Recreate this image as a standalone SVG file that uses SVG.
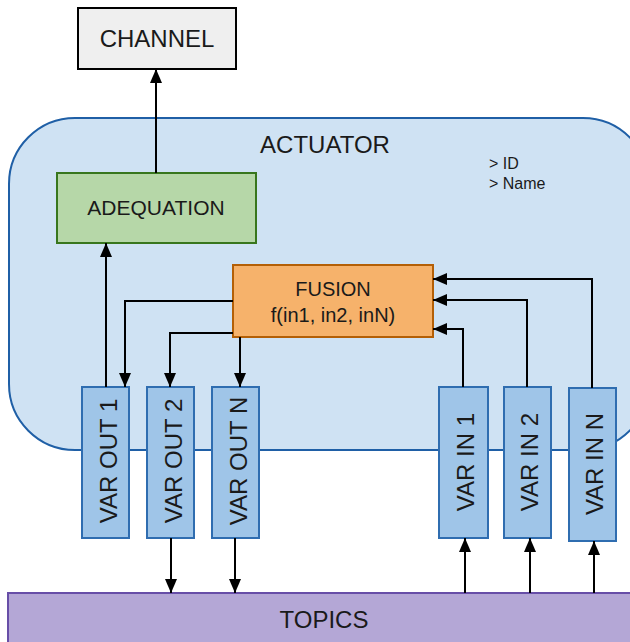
<svg xmlns="http://www.w3.org/2000/svg" width="630" height="642" viewBox="0 0 630 642">
<defs>
<marker id="arr" markerUnits="userSpaceOnUse" markerWidth="14" markerHeight="12" refX="14" refY="6" orient="auto">
<path d="M0,0 L14,6 L0,12 z" fill="#000"/>
</marker>
<style>
text{font-family:"Liberation Sans",Arial,sans-serif;fill:#1a1a1a}
.var rect{fill:#9fc5e8;stroke:#2f6db0;stroke-width:2}
.var text{font-size:24px;text-anchor:middle}
.c{fill:none;stroke:#000;stroke-width:2;marker-end:url(#arr)}
</style>
</defs>
<rect width="630" height="642" fill="#fff"/>
<g id="actuator">
<rect x="9" y="118" width="640" height="332" rx="66" ry="66" fill="#cfe2f3" stroke="#1f5fa6" stroke-width="2"/>
<text x="325" y="153" font-size="24" text-anchor="middle">ACTUATOR</text>
<text x="489" y="169" font-size="16">&gt; ID</text>
<text x="489" y="189" font-size="16">&gt; Name</text>
</g>
<g id="topics">
<rect x="8" y="593" width="640" height="60" fill="#b4a7d6" stroke="#674ea7" stroke-width="2"/>
<text x="324" y="628" font-size="24" text-anchor="middle">TOPICS</text>
</g>
<g id="channel">
<rect x="78" y="8" width="158" height="61" fill="#efefef" stroke="#000" stroke-width="2"/>
<text x="157" y="47" font-size="24" text-anchor="middle">CHANNEL</text>
</g>
<g id="adequation">
<rect x="57" y="173" width="199" height="70" fill="#b6d7a8" stroke="#38761d" stroke-width="2"/>
<text x="156" y="215" font-size="21" text-anchor="middle">ADEQUATION</text>
</g>
<g id="fusion">
<rect x="233" y="265" width="200" height="72" fill="#f6b26b" stroke="#b45f06" stroke-width="2"/>
<text x="333" y="296" font-size="20" text-anchor="middle">FUSION</text>
<text x="333" y="322" font-size="20" text-anchor="middle">f(in1, in2, inN)</text>
</g>
<g id="var_out_1" class="var">
<rect x="82" y="387" width="47" height="151"/>
<text transform="translate(117,461) rotate(-90)">VAR OUT 1</text>
</g>
<g id="var_out_2" class="var">
<rect x="147" y="387" width="47" height="151"/>
<text transform="translate(182,461) rotate(-90)">VAR OUT 2</text>
</g>
<g id="var_out_n" class="var">
<rect x="212" y="387" width="47" height="151"/>
<text transform="translate(247,461) rotate(-90)">VAR OUT N</text>
</g>
<g id="var_in_1" class="var">
<rect x="439" y="387" width="49" height="151"/>
<text transform="translate(474,462) rotate(-90)">VAR IN 1</text>
</g>
<g id="var_in_2" class="var">
<rect x="504" y="387" width="47" height="151"/>
<text transform="translate(538,462) rotate(-90)">VAR IN 2</text>
</g>
<g id="var_in_n" class="var">
<rect x="569" y="388" width="47" height="153"/>
<text transform="translate(603,464) rotate(-90)">VAR IN N</text>
</g>
<g id="connectors">
<path class="c" d="M156,173 V69"/>
<path class="c" d="M106,387 V243"/>
<path class="c" d="M233,301 H125 V387"/>
<path class="c" d="M233,333 H170 V387"/>
<path class="c" d="M240,337 V387"/>
<path class="c" d="M463,387 V329 H433"/>
<path class="c" d="M527,387 V300 H433"/>
<path class="c" d="M592,388 V279 H433"/>
<path class="c" d="M171,538 V593"/>
<path class="c" d="M235,538 V593"/>
<path class="c" d="M465,593 V538"/>
<path class="c" d="M530,593 V538"/>
<path class="c" d="M594,593 V541"/>
</g>
</svg>
